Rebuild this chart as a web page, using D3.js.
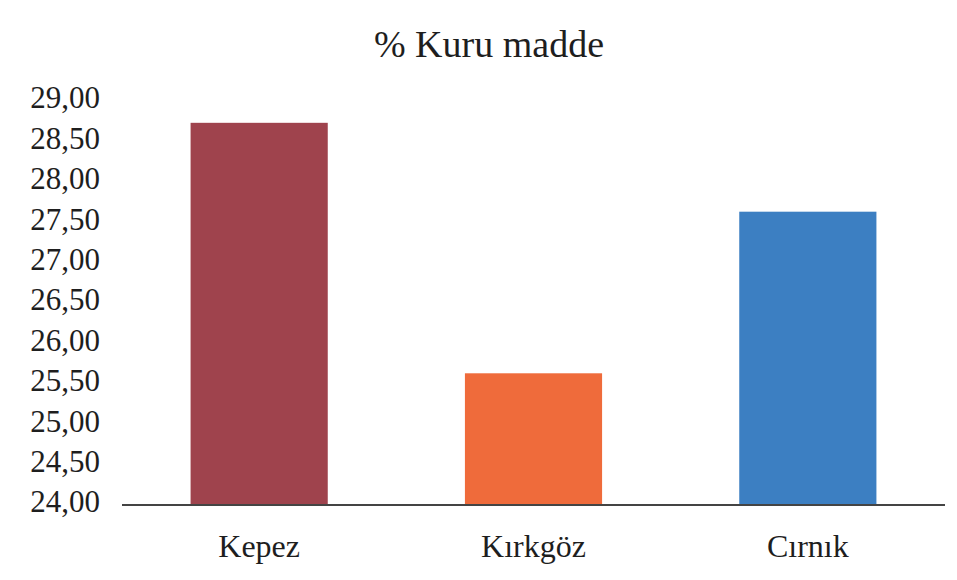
<!DOCTYPE html>
<html>
<head>
<meta charset="utf-8">
<script src="https://cdn.jsdelivr.net/npm/d3@7"></script>
<style>
html,body{margin:0;padding:0;background:#fff;}
svg{display:block;}
</style>
</head>
<body>
<svg id="chart" width="957" height="580"></svg>
<script>
const title = "% Kuru madde";
const categories = ["Kepez", "Kırkgöz", "Cırnık"];
const values = [28.73, 25.63, 27.63];
const colors = ["#9F434D", "#EF6B3B", "#3C7FC2"];
const tickValues = [24, 24.5, 25, 25.5, 26, 26.5, 27, 27.5, 28, 28.5, 29];

const svg = d3.select("#chart");
const W = 957, H = 580;
const font = "Liberation Serif";

svg.append("rect").attr("width", W).attr("height", H).attr("fill", "#fff");

const x = d3.scaleBand().domain(categories).range([122, 945])
  .paddingInner(0.5).paddingOuter(0.25);
const y = d3.scaleLinear().domain([24, 29]).range([505, 101]);

const fmt = v => d3.format(".2f")(v).replace(".", ",");

// bars
svg.append("g").selectAll("rect").data(categories).join("rect")
  .attr("x", d => x(d))
  .attr("width", x.bandwidth())
  .attr("y", (d, i) => y(values[i]))
  .attr("height", (d, i) => y(24) - y(values[i]))
  .attr("fill", (d, i) => colors[i]);

// y axis (labels only)
const yAxis = d3.axisLeft(y).tickValues(tickValues).tickFormat(fmt).tickSize(0).tickPadding(0);
const gy = svg.append("g").attr("transform", "translate(100,-3)").call(yAxis);
gy.attr("font-family", null);
gy.select(".domain").remove();
gy.selectAll("text").style("font-family", font).style("font-size", "31px").attr("fill", "#1e1e1e");

// x axis
const xAxis = d3.axisBottom(x).tickSize(0).tickPadding(29);
const gx = svg.append("g").attr("transform", `translate(0,${y(24)})`).call(xAxis);
gx.attr("font-family", null);
gx.select(".domain").attr("stroke", "#444").attr("stroke-width", 2)
  .attr("d", `M${x.range()[0]},0H${x.range()[1]}`);
gx.selectAll("text").style("font-family", font).style("font-size", "32px").attr("fill", "#1e1e1e");

// title
svg.append("text").attr("x", 489).attr("y", 57).attr("text-anchor", "middle")
  .style("font-family", font).style("font-size", "38px").attr("fill", "#1e1e1e").text(title);
</script>
</body>
</html>
